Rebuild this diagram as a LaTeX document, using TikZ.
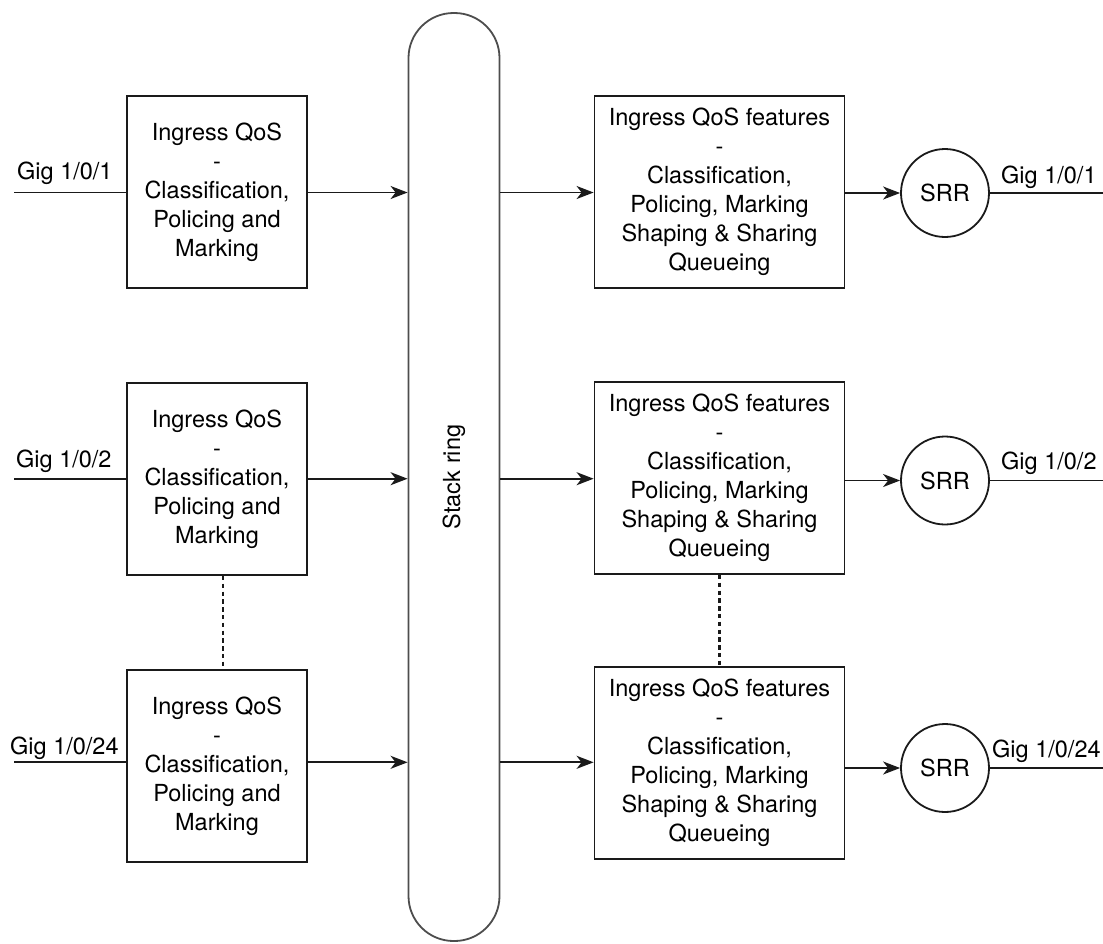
\documentclass[tikz,border=0pt]{standalone}
\usepackage{fontspec}
\setmainfont{TeX Gyre Heros}
\usetikzlibrary{arrows.meta}
\definecolor{ln}{HTML}{1A1A1A}
\definecolor{ringc}{HTML}{4D4D4D}
\tikzset{
  txt/.style={font=\fontsize{23.5}{29}\selectfont},
  inbox/.style={draw=ln, line width=1.8pt, minimum width=180pt, minimum height=192pt, inner sep=0pt, align=center, txt},
  featbox/.style={draw=ln, line width=1.8pt, minimum width=250pt, minimum height=192pt, inner sep=0pt, align=center, txt},
  srr/.style={draw=ln, line width=1.8pt, circle, minimum size=88pt, inner sep=0pt, txt},
  ring/.style={draw=ringc, line width=1.8pt, rounded corners=45pt, minimum width=91pt, minimum height=928pt, inner sep=0pt},
  port/.style={anchor=base west, inner sep=0pt, txt},
  conn/.style={draw=ln, line width=1.7pt},
  arr/.style={conn, -{Stealth[length=17pt, width=13pt, inset=5pt]}},
  dots/.style={draw=ln, line width=2.4pt, dash pattern=on 4.5pt off 3.3pt}
}
\begin{document}
\begin{tikzpicture}[x=1pt, y=-1pt]
\useasboundingbox (0,0) rectangle (1103,943);

% stack ring
\node[ring] (ring) at (454,477) {};
\node[txt, rotate=90, inner sep=0pt] (ringlbl) at (454,477) {Stack ring};

% left ingress boxes
\node[inbox] (L1) at (217,192) {Ingress QoS\\-\\Classification,\\Policing and\\Marking};
\node[inbox] (L2) at (217,479) {Ingress QoS\\-\\Classification,\\Policing and\\Marking};
\node[inbox] (L3) at (217,766) {Ingress QoS\\-\\Classification,\\Policing and\\Marking};

% right feature boxes
\node[featbox] (R1) at (719.5,192) {Ingress QoS features\\-\\Classification,\\Policing, Marking\\Shaping \& Sharing\\Queueing};
\node[featbox] (R2) at (719.5,478) {Ingress QoS features\\-\\Classification,\\Policing, Marking\\Shaping \& Sharing\\Queueing};
\node[featbox] (R3) at (719.5,763) {Ingress QoS features\\-\\Classification,\\Policing, Marking\\Shaping \& Sharing\\Queueing};

% SRR
\node[srr] (S1) at (945,193) {SRR};
\node[srr] (S2) at (945,480.5) {SRR};
\node[srr] (S3) at (945,768) {SRR};

% port labels
\node[port] (p1) at (17,179) {Gig 1/0/1};
\node[port] (p2) at (16,467) {Gig 1/0/2};
\node[port] (p3) at (10,754) {Gig 1/0/24};
\node[port] (q1) at (1001,183) {Gig 1/0/1};
\node[port] (q2) at (1001,469) {Gig 1/0/2};
\node[port] (q3) at (992,757) {Gig 1/0/24};

% free ends
\coordinate (in1) at (14,192.5);
\coordinate (in2) at (14,478.7);
\coordinate (in3) at (14,762.3);
\coordinate (out1) at (1103,193);
\coordinate (out2) at (1103,480.5);
\coordinate (out3) at (1103,768);

% row 1
\draw[conn] (in1) -- (L1.west |- in1);
\draw[arr] (L1.east |- in1) -- (ring.west |- in1);
\draw[arr] (ring.east |- in1) -- (R1.west |- in1);
\draw[arr] (R1.east |- S1) -- (S1.west);
\draw[conn] (S1.east) -- (out1);

% row 2
\draw[conn] (in2) -- (L2.west |- in2);
\draw[arr] (L2.east |- in2) -- (ring.west |- in2);
\draw[arr] (ring.east |- in2) -- (R2.west |- in2);
\draw[arr] (R2.east |- S2) -- (S2.west);
\draw[conn] (S2.east) -- (out2);

% row 3
\draw[conn] (in3) -- (L3.west |- in3);
\draw[arr] (L3.east |- in3) -- (ring.west |- in3);
\draw[arr] (ring.east |- in3) -- (R3.west |- in3);
\draw[arr] (R3.east |- S3) -- (S3.west);
\draw[conn] (S3.east) -- (out3);

% dotted continuation
\draw[dots] ([xshift=6pt]L2.south) -- ([xshift=6pt]L3.north);
\draw[dots] (R2.south) -- (R3.north);
\end{tikzpicture}
\end{document}
